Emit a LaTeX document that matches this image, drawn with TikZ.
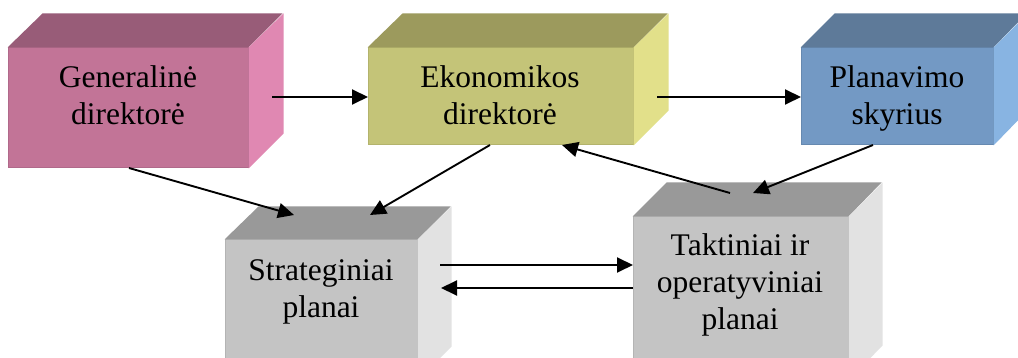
\documentclass[tikz,border=0pt]{standalone}
\usepackage{fontspec}
\setmainfont{Liberation Serif}
\usetikzlibrary{arrows.meta}

% face colours: F = front, T = top, S = side, E = front edge
\definecolor{pinkF}{HTML}{C27497}\definecolor{pinkT}{HTML}{985C78}
\definecolor{pinkS}{HTML}{E088B2}\definecolor{pinkE}{HTML}{B0698A}
\definecolor{oliveF}{HTML}{C4C478}\definecolor{oliveT}{HTML}{9C9A5D}
\definecolor{oliveS}{HTML}{E2E08A}\definecolor{oliveE}{HTML}{B3B36C}
\definecolor{blueF}{HTML}{7399C4}\definecolor{blueT}{HTML}{5E7A99}
\definecolor{blueS}{HTML}{88B4E2}\definecolor{blueE}{HTML}{6689B0}
\definecolor{grayF}{HTML}{C4C4C4}\definecolor{grayT}{HTML}{999999}
\definecolor{grayS}{HTML}{E2E2E2}\definecolor{grayE}{HTML}{B4B4B4}

% a box drawn as a cuboid: front face node plus top and side faces
% #1 name, #2 x1, #3 y1, #4 x2, #5 y2, #6 depth x, #7 depth y, #8 colour prefix
\newcommand\cuboid[8]{%
  \node[fill=#8F, draw=#8E, line width=1pt, inner sep=0pt,
        minimum width={(#4-#2)*1pt}, minimum height={(#5-#3)*1pt}]
    (#1) at ({(#2+#4)/2},{(#3+#5)/2}) {};
  \fill[#8T] (#1.north west) -- ++(#6,-#7) -- ++({#4-#2},0) -- (#1.north east) -- cycle;
  \fill[#8S] (#1.north east) -- ++(#6,-#7) -- ++(0,{#5-#3}) -- (#1.south east) -- cycle;
}

% labels are placed by the baseline of their last line
\tikzset{
  lbl/.style={align=center, font=\fontsize{31.5}{37}\selectfont, inner sep=0pt, anchor=base},
  arr/.style={line width=1.9pt, -{Triangle[length=16pt,width=15pt]}}
}

\begin{document}
\begin{tikzpicture}[x=1pt,y=-1pt]
\clip (0,0) rectangle (1018,358);
\fill[white] (0,0) rectangle (1018,358);

\cuboid{gen}{8}{48}{248}{168}{35}{34}{pink}
\cuboid{eko}{368}{48}{633}{145}{35}{34}{olive}
\cuboid{plan}{801}{48}{993}{145}{34}{34}{blue}
\cuboid{strat}{225}{240}{417}{380}{34}{33}{gray}
\cuboid{takt}{633}{217}{848}{380}{34}{34}{gray}

\node[lbl] (genT) at (128,125) {Generalinė\\direktorė};
\node[lbl] (ekoT) at (500,125) {Ekonomikos\\direktorė};
\node[lbl] (planT) at (897,125) {Planavimo\\skyrius};
\node[lbl] (stratT) at (321,317) {Strateginiai\\planai};
\node[lbl] (taktT) at (740,330) {Taktiniai ir\\operatyviniai\\planai};

% connector end points
\coordinate (g1) at (272,97);   \coordinate (e1) at (368,97);
\coordinate (e2) at (657,97);   \coordinate (p1) at (801,97);
\coordinate (g2) at (129,168);  \coordinate (s1) at (294,215);
\coordinate (e3) at (490,145);  \coordinate (s2) at (370,215);
\coordinate (p2) at (873,145);  \coordinate (t1) at (753,193);
\coordinate (t2) at (730,193);  \coordinate (e4) at (562,145);
\coordinate (s3) at (440,265);  \coordinate (t3) at (633,265);
\coordinate (t4) at (633,288);  \coordinate (s4) at (441,288);

\draw[arr] (g1) -- (e1);
\draw[arr] (e2) -- (p1);
\draw[arr] (g2) -- (s1);
\draw[arr] (e3) -- (s2);
\draw[arr] (p2) -- (t1);
\draw[arr] (t2) -- (e4);
\draw[arr] (s3) -- (t3);
\draw[arr] (t4) -- (s4);
\end{tikzpicture}
\end{document}
